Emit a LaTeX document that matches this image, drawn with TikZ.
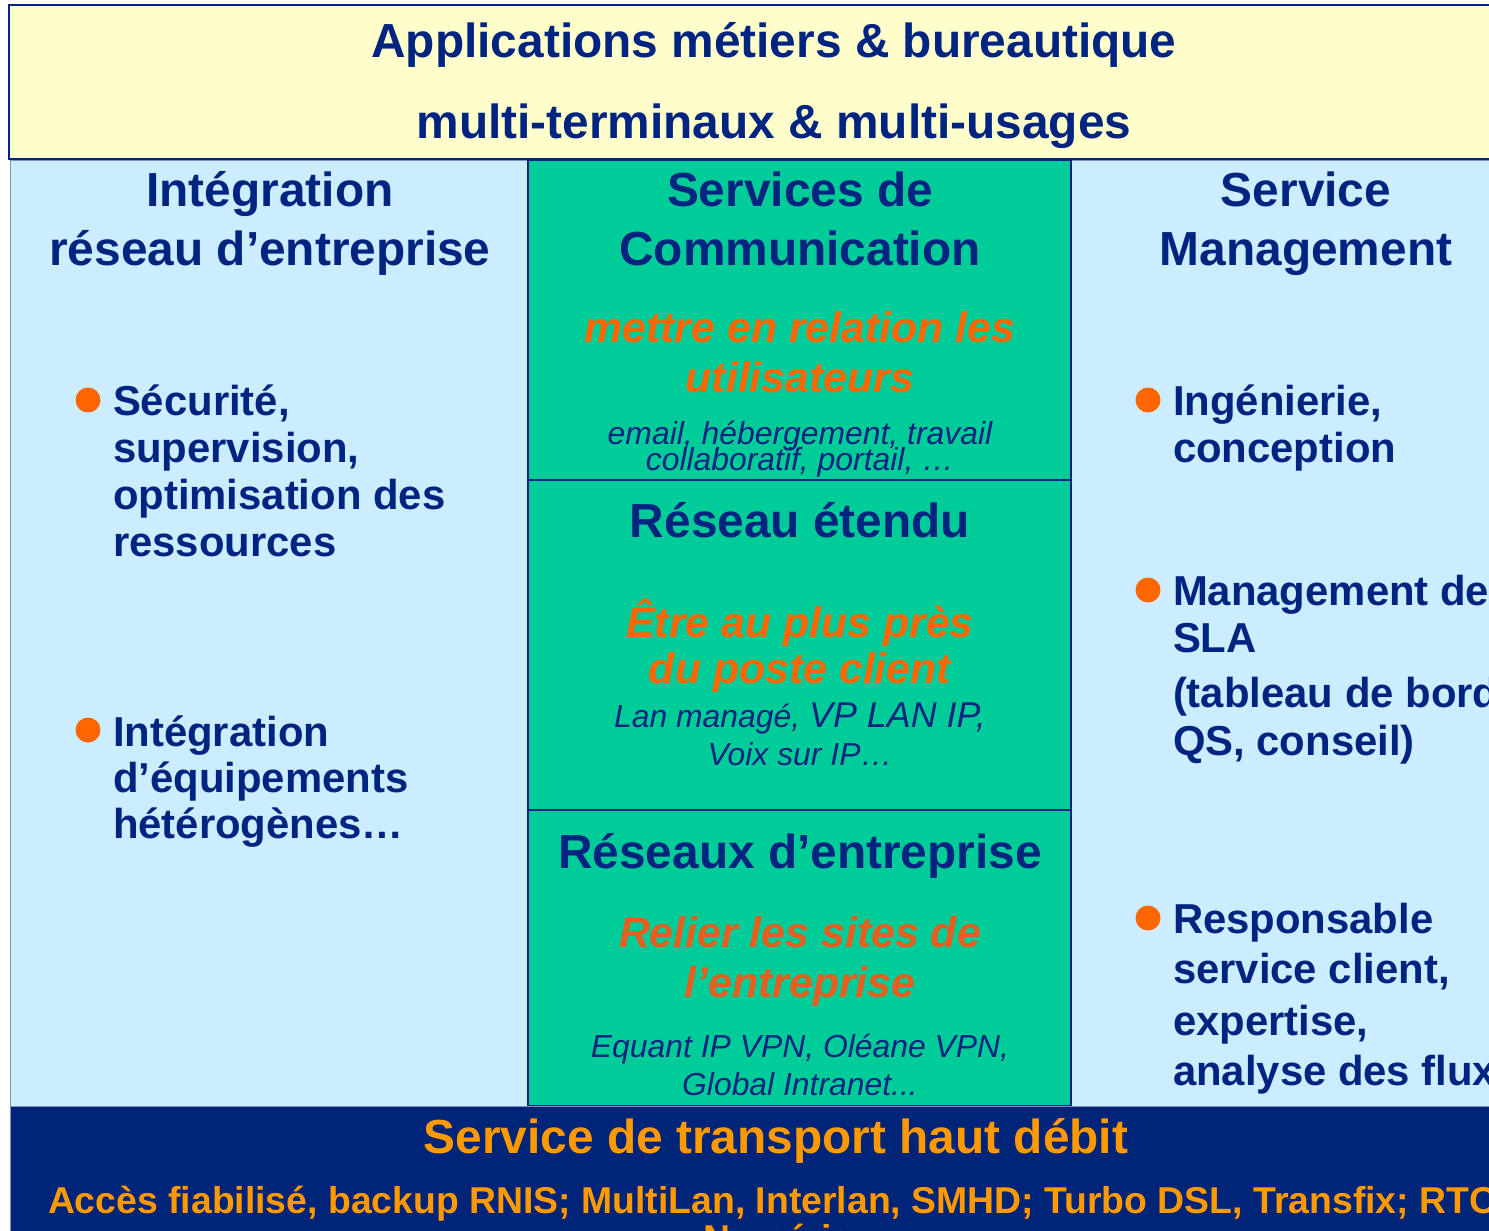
\documentclass[tikz,border=0pt]{standalone}
\usepackage{fontspec}
\setmainfont{Liberation Sans}
\definecolor{navy}{RGB}{0,36,128}
\definecolor{navyband}{RGB}{0,36,120}
\definecolor{yel}{RGB}{255,255,204}
\definecolor{lblue}{RGB}{204,236,255}
\definecolor{grn}{RGB}{0,204,153}
\definecolor{org}{RGB}{255,102,0}
\definecolor{org2}{RGB}{232,94,30}
\definecolor{gold}{RGB}{255,153,0}
\begin{document}
\begin{tikzpicture}[x=1bp,y=-1bp,
  every node/.style={inner sep=0pt, outer sep=0pt},
  hd/.style={font=\bfseries\fontsize{48}{48}\selectfont, text=navy, anchor=base},
  bt/.style={font=\bfseries\fontsize{42}{42}\selectfont, text=navy, anchor=base west},
  ob/.style={font=\bfseries\itshape\fontsize{43}{43}\selectfont, text=org, anchor=base},
  it/.style={font=\itshape\fontsize{32}{32}\selectfont, text=navy, anchor=base},
  bot/.style={font=\bfseries\fontsize{48}{48}\selectfont, text=gold, anchor=base},
  botsm/.style={font=\bfseries\fontsize{37.5}{37.5}\selectfont, text=gold},
  dot/.style={fill=org}]
\useasboundingbox (0,0) rectangle (1489,1230);
\clip (0,0) rectangle (1489,1230);
\fill[white] (0,0) rectangle (1489,1230);
% top band
\filldraw[fill=yel, draw=navy, line width=2.5] (9,5) rectangle (1520,159);
% columns
\filldraw[fill=lblue, draw=navy!50, line width=1] (10,160) rectangle (528,1106);
\filldraw[fill=lblue, draw=navy!50, line width=1] (1071,160) rectangle (1520,1106);
\filldraw[fill=grn, draw=navy, line width=2] (528,160) rectangle (1071,1106);
\draw[navy, line width=2.5] (528,480) -- (1071,480);
\draw[navy, line width=2.5] (528,810) -- (1071,810);
% bottom band
\filldraw[fill=navyband, draw=navy!50, line width=1] (10,1106) rectangle (1520,1260);

% top texts
\node[hd] (t1) at (774,57) {Applications métiers \& bureautique};
\node[hd] (t2) at (774,138) {multi-terminaux \& multi-usages};

% left column
\node[hd] (l1) at (270,206) {Intégration};
\node[hd] (l2) at (270,265) {réseau d’entreprise};
\fill[dot] (88,400) circle (12.5);
\node[bt] (la1) at (113,415) {Sécurité,};
\node[bt] (la2) at (113,462) {supervision,};
\node[bt] (la3) at (113,509) {optimisation des};
\node[bt] (la4) at (113,556) {ressources};
\fill[dot] (88,730) circle (12.5);
\node[bt] (lb1) at (113,746) {Intégration};
\node[bt] (lb2) at (113,792) {d’équipements};
\node[bt] (lb3) at (113,838) {hétérogènes…};

% middle column
\node[hd] (m1) at (800,206) {Services de};
\node[hd] (m2) at (800,265) {Communication};
\node[ob] (m3) at (800,342) {mettre en relation les};
\node[ob] (m4) at (800,392) {utilisateurs};
\node[it] (m5) at (800,444) {email, hébergement, travail};
\node[it] (m6) at (800,470) {collaboratif, portail, …};
\node[hd] (n1) at (800,537) {Réseau étendu};
\node[ob] (n2) at (800,637) {Être au plus près};
\node[ob] (n3) at (800,683) {du poste client};
\node[it] (n4) at (800,727) {Lan managé, {\fontsize{36}{36}\selectfont VP LAN IP,}};
\node[it] (n5) at (800,765) {Voix sur IP…};
\node[hd] (p1) at (800,868) {Réseaux d’entreprise};
\node[ob, text=org2] (p2) at (800,947) {Relier les sites de};
\node[ob, text=org2] (p3) at (800,997) {l’entreprise};
\node[it] (p4) at (800,1057) {Equant IP VPN, Oléane VPN,};
\node[it] (p5) at (800,1095) {Global Intranet...};

% right column
\node[hd] (r1) at (1306,206) {Service};
\node[hd] (r2) at (1306,265) {Management};
\fill[dot] (1148,400) circle (12.5);
\node[bt] (ra1) at (1173,415) {Ingénierie,};
\node[bt] (ra2) at (1173,462) {conception};
\fill[dot] (1148,590) circle (12.5);
\node[bt] (rb1) at (1173,605) {Management de};
\node[bt] (rb2) at (1173,652) {SLA};
\node[bt] (rb3) at (1173,707) {(tableau de bord};
\node[bt] (rb4) at (1173,755) {QS, conseil)};
\fill[dot] (1148,918) circle (12.5);
\node[bt] (rc1) at (1173,933) {Responsable};
\node[bt] (rc2) at (1173,983) {service client,};
\node[bt] (rc3) at (1173,1035) {expertise,};
\node[bt] (rc4) at (1173,1085) {analyse des flux};

% bottom
\node[bot] (b1) at (776,1153) {Service de transport haut débit};
\node[botsm, anchor=base west] (b2) at (48,1213) {Accès fiabilisé, backup RNIS; MultiLan, Interlan, SMHD; Turbo DSL, Transfix; RTC};
\node[botsm, anchor=base] (b3) at (778,1251) {Numéris};
\end{tikzpicture}
\end{document}
